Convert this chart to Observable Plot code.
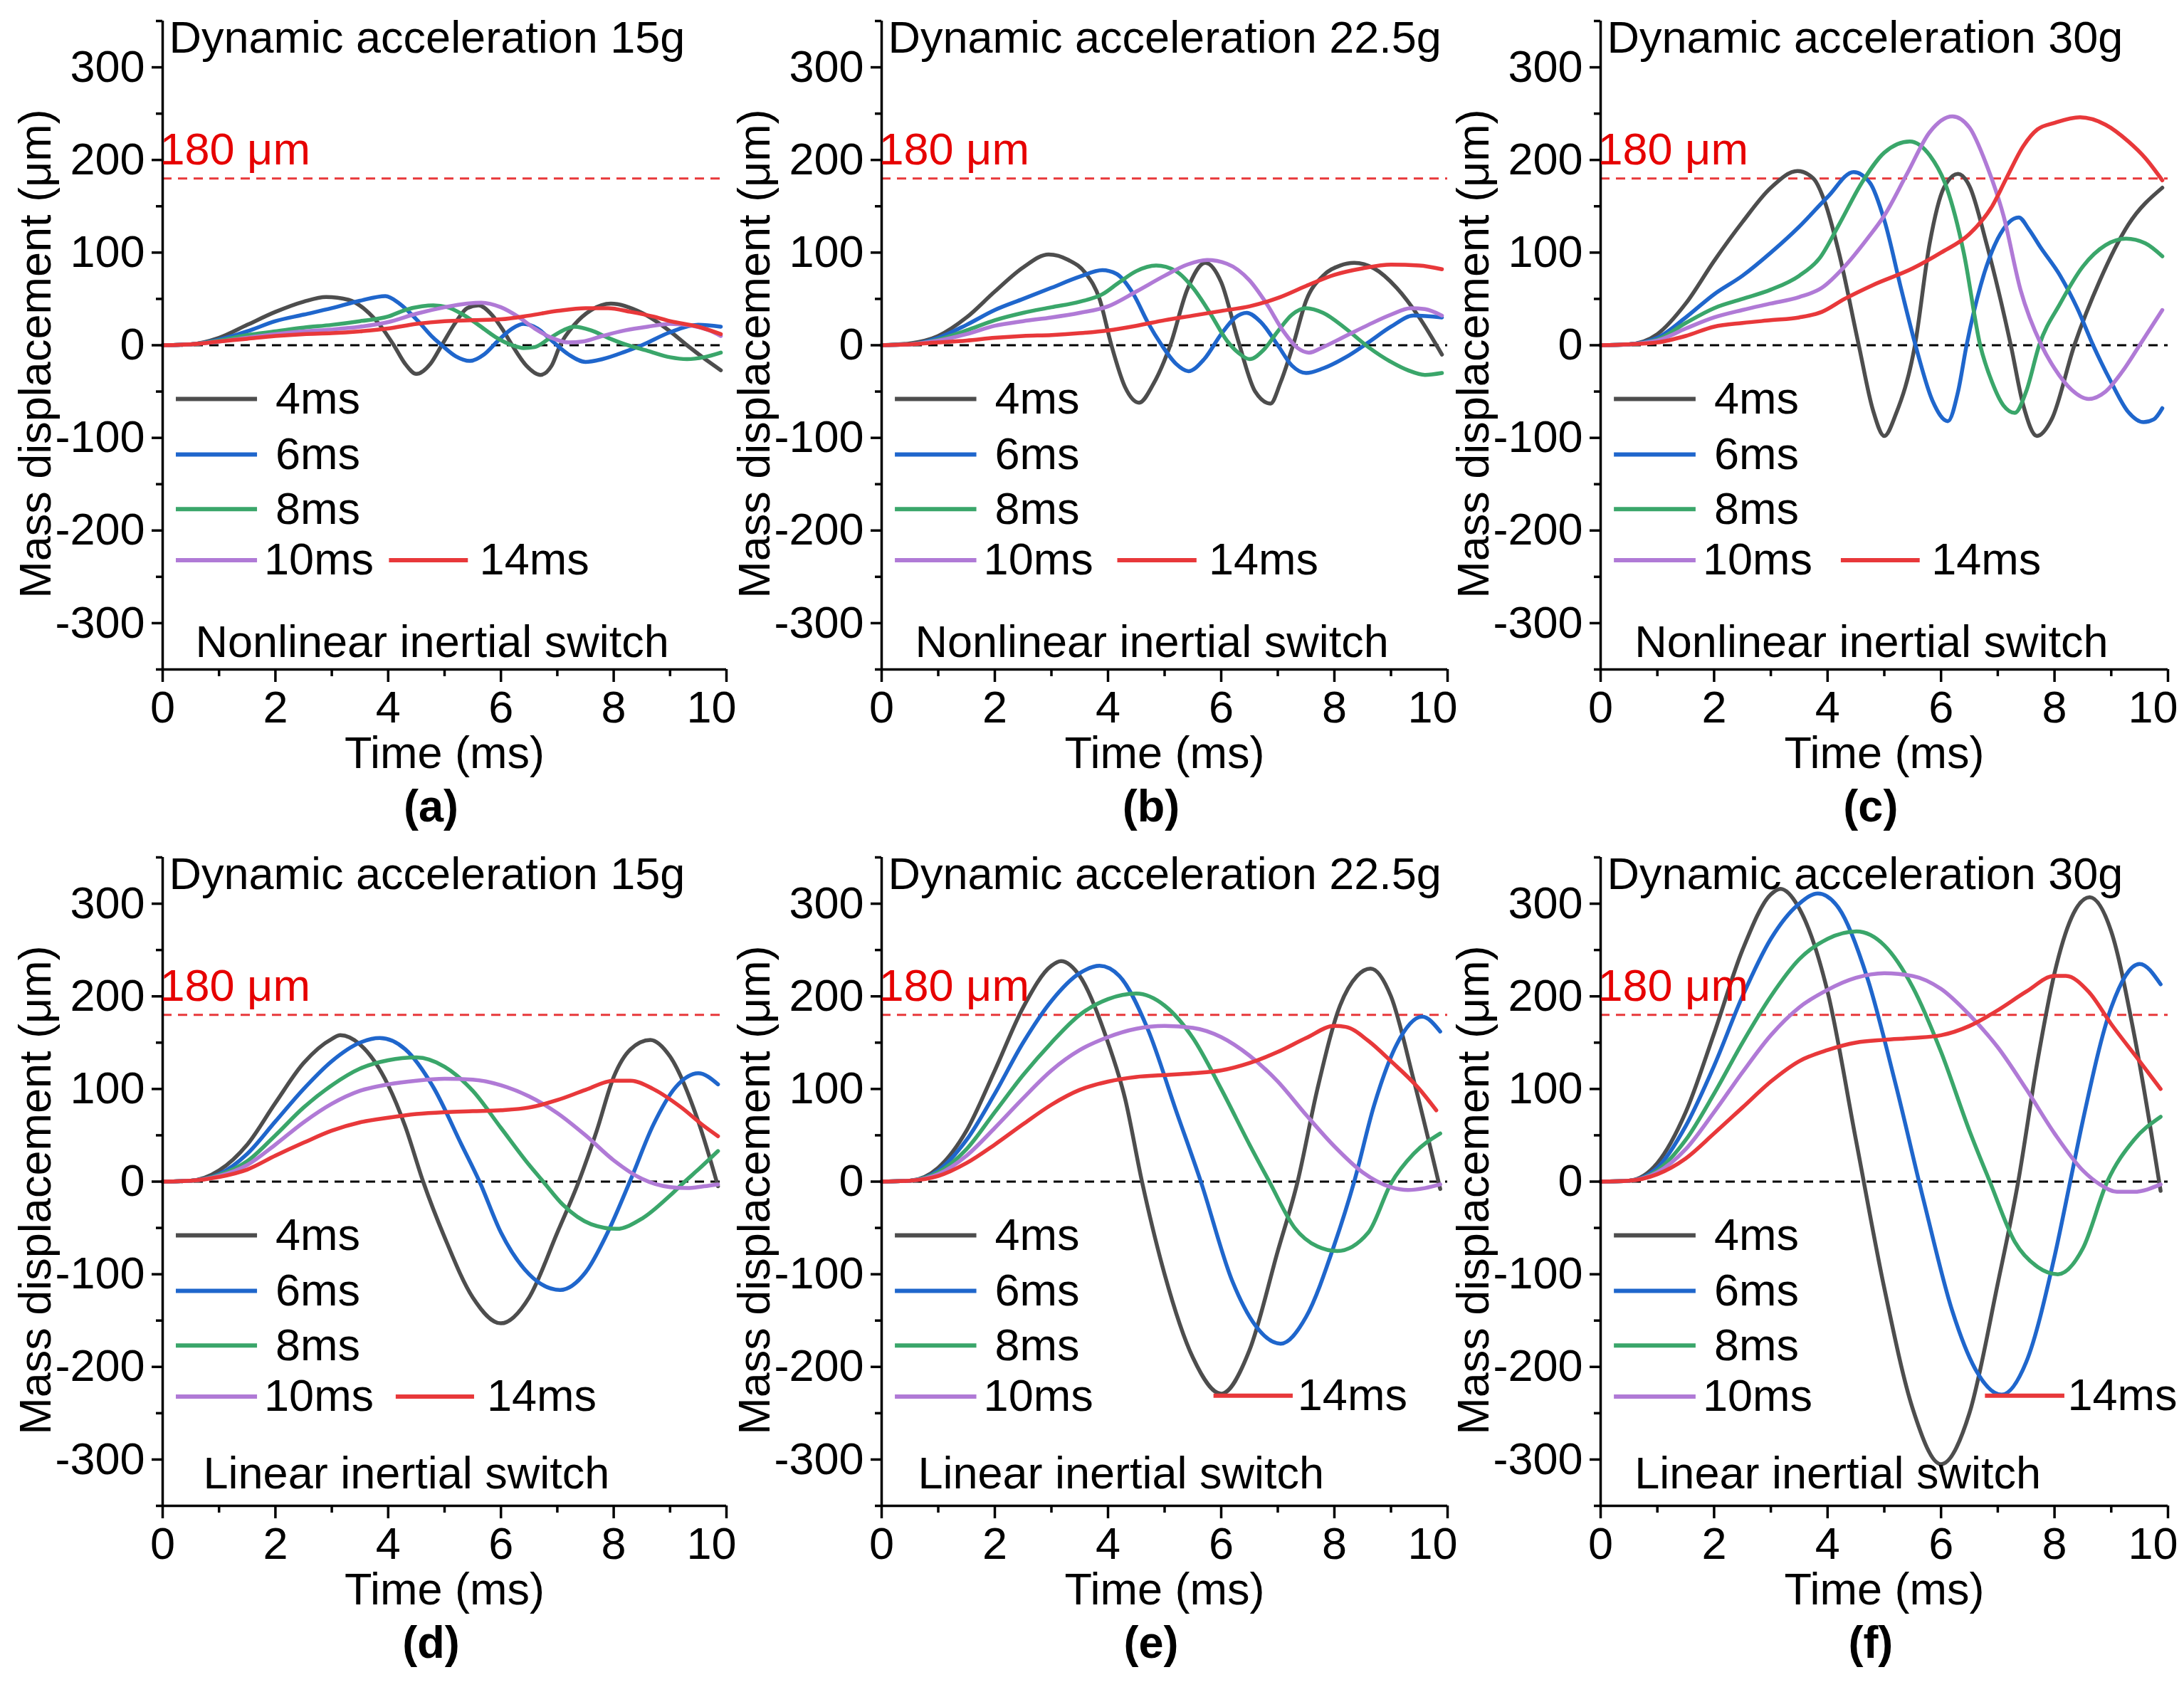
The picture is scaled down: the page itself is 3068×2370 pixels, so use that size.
<!DOCTYPE html>
<html><head><meta charset="utf-8">
<script src="https://cdn.jsdelivr.net/npm/d3@7"></script>
<script src="https://cdn.jsdelivr.net/npm/@observablehq/plot@0.6"></script>
<style>
body{margin:0;background:#fff}
#root{position:relative;width:3068px;height:2370px;background:#fff;overflow:hidden}
.panel{position:absolute}
.panel svg{overflow:visible}
</style>
</head><body><div id="root"></div>
<script>
// ---------- data (time ms, displacement µm) ----------
const seriesNames = ["4ms", "6ms", "8ms", "10ms", "14ms"];
const yTicks = [-300, -200, -100, 0, 100, 200, 300];
const yMinor = [-350, -250, -150, -50, 50, 150, 250, 350];
const xTicks = [0, 2, 4, 6, 8];
const xLast = [10];
const xMinor = [1, 3, 5, 7, 9];
const threshold = 180;

// (a) Nonlinear, 15g
const a4 = [[0,0],[0.5,1],[1,8],[1.5,22],[2,36],[2.5,47],[2.9,52],[3.3,49],[3.6,38],[3.85,22],[4.1,0],[4.3,-20],[4.5,-31],[4.75,-20],[4.95,0],[5.2,25],[5.4,40],[5.6,43],[5.85,32],[6.05,15],[6.2,0],[6.45,-22],[6.7,-32],[6.9,-22],[7.05,0],[7.3,22],[7.6,38],[7.95,45],[8.5,35],[9,15],[9.3,0],[9.6,-14],[9.9,-27]];
const a6 = [[0,0],[0.5,1],[1,6],[1.5,15],[2,26],[2.5,33],[3,40],[3.5,48],[3.95,53],[4.2,45],[4.5,28],[4.8,8],[4.95,0],[5.2,-12],[5.45,-17],[5.7,-10],[5.95,5],[6.2,18],[6.4,23],[6.65,18],[6.9,5],[7.2,-10],[7.5,-18],[7.8,-15],[8.2,-7],[8.5,0],[9,14],[9.5,22],[9.9,20]];
const a8 = [[0,0],[0.5,1],[1,5],[1.5,11],[2,15],[2.5,19],[3,22],[3.5,26],[4,31],[4.3,38],[4.6,42],[4.8,43],[5.05,41],[5.3,34],[5.6,22],[5.9,9],[6.2,0],[6.4,-3],[6.6,-2],[6.85,7],[7.1,16],[7.3,20],[7.6,16],[7.9,8],[8.2,1],[8.6,-6],[9,-13],[9.3,-15],[9.6,-13],[9.9,-8]];
const a10 = [[0,0],[0.5,1],[1,4],[1.5,8],[2,12],[2.5,15],[3,17],[3.5,20],[4,25],[4.5,34],[5,41],[5.4,45],[5.65,46],[6,41],[6.3,31],[6.6,18],[6.9,8],[7.2,3],[7.45,4],[7.8,10],[8.2,16],[8.6,20],[9,23],[9.4,21],[9.7,16],[9.9,10]];
const a14 = [[0,0],[0.5,1],[1,4],[1.5,7],[2,10],[2.5,12],[3,13],[3.5,15],[4,18],[4.5,23],[5,26],[5.5,27],[6,28],[6.5,32],[7,37],[7.5,40],[7.9,40],[8.3,36],[8.7,31],[9,26],[9.5,20],[9.9,12]];

// (b) Nonlinear, 22.5g
const b4 = [[0,0],[0.5,2],[1,10],[1.5,30],[2,58],[2.5,84],[2.95,98],[3.3,92],[3.6,78],[3.85,50],[4.06,0],[4.3,-45],[4.55,-62],[4.8,-42],[5.1,0],[5.4,60],[5.72,89],[6.0,68],[6.3,5],[6.6,-50],[6.87,-63],[7.05,-40],[7.27,0],[7.5,48],[7.8,75],[8.1,86],[8.35,89],[8.7,83],[9.1,62],[9.5,30],[9.9,-10]];
const b6 = [[0,0],[0.5,1],[1,8],[1.5,22],[2,38],[2.5,50],[3,62],[3.5,74],[3.9,81],[4.15,77],[4.45,55],[4.7,25],[4.95,0],[5.2,-20],[5.42,-28],[5.7,-15],[6.0,12],[6.25,30],[6.45,35],[6.7,25],[7,0],[7.25,-22],[7.5,-30],[7.8,-25],[8.2,-13],[8.6,3],[9,20],[9.4,32],[9.9,30]];
const b8 = [[0,0],[0.5,1],[1,6],[1.5,16],[2,27],[2.5,35],[3,41],[3.5,47],[3.9,55],[4.2,68],[4.5,80],[4.85,86],[5.2,80],[5.5,62],[5.8,35],[6.1,5],[6.3,-8],[6.5,-15],[6.75,-5],[7.0,15],[7.25,33],[7.5,40],[7.8,35],[8.2,18],[8.6,-2],[9,-18],[9.3,-27],[9.6,-32],[9.9,-30]];
const b10 = [[0,0],[0.5,1],[1,5],[1.5,12],[2,21],[2.5,26],[3,30],[3.5,35],[4,42],[4.5,58],[5,75],[5.4,87],[5.75,92],[6.1,88],[6.5,70],[6.8,45],[7.1,15],[7.35,-3],[7.55,-8],[7.8,-2],[8.2,10],[8.6,22],[9,33],[9.35,40],[9.6,39],[9.9,32]];
const b14 = [[0,0],[0.5,1],[1,3],[1.5,5],[2,8],[2.5,10],[3,11],[3.5,13],[4,16],[4.5,21],[5,27],[5.5,32],[6,37],[6.5,42],[7,51],[7.5,64],[8,76],[8.5,83],[9,87],[9.5,86],[9.9,82]];

// (c) Nonlinear, 30g
const c4 = [[0,0],[0.5,1],[1,12],[1.5,45],[2,91],[2.5,133],[3,170],[3.47,188],[3.75,180],[3.95,155],[4.2,100],[4.55,0],[4.8,-70],[5.0,-98],[5.2,-75],[5.54,0],[5.8,110],[6.05,170],[6.3,185],[6.5,172],[6.8,110],[7.23,0],[7.45,-65],[7.69,-98],[7.95,-80],[8.35,0],[8.8,70],[9.3,130],[9.9,170]];
const c6 = [[0,0],[0.5,1],[1,8],[1.5,30],[2,55],[2.5,75],[3,100],[3.5,128],[4,160],[4.46,187],[4.75,175],[5.0,135],[5.3,60],[5.55,0],[5.85,-60],[6.12,-82],[6.3,-50],[6.45,0],[6.7,65],[7.0,115],[7.37,138],[7.55,125],[7.75,106],[8.1,75],[8.4,40],[8.68,0],[9.0,-40],[9.3,-72],[9.57,-83],[9.75,-80],[9.9,-68]];
const c8 = [[0,0],[0.5,1],[1,6],[1.5,24],[2,40],[2.5,50],[3,60],[3.5,75],[3.86,94],[4.2,130],[4.6,175],[5.0,208],[5.45,220],[5.8,205],[6.1,170],[6.4,100],[6.69,0],[6.9,-40],[7.1,-65],[7.3,-73],[7.5,-50],[7.73,0],[8.1,45],[8.5,85],[8.9,108],[9.26,115],[9.6,110],[9.9,96]];
const c10 = [[0,0],[0.5,1],[1,5],[1.5,18],[2,30],[2.5,38],[3,45],[3.5,52],[3.9,62],[4.3,85],[4.7,115],[5.0,140],[5.4,185],[5.8,230],[6.2,247],[6.5,235],[6.8,195],[7.1,140],[7.4,60],[7.77,0],[8.0,-25],[8.3,-48],[8.6,-58],[8.9,-50],[9.2,-28],[9.5,0],[9.9,38]];
const c14 = [[0,0],[0.5,1],[1,3],[1.5,10],[2,20],[2.5,24],[3,27],[3.5,30],[3.9,36],[4.3,50],[4.8,65],[5.5,83],[6,100],[6.5,120],[6.9,150],[7.15,180],[7.45,215],[7.7,233],[8.0,240],[8.45,246],[8.9,238],[9.3,220],[9.6,202],[9.9,178]];

// (d) Linear, 15g
const d4 = [[0,0],[0.5,1],[1,12],[1.5,40],[2,85],[2.5,128],[3,154],[3.15,158],[3.5,148],[4,104],[4.3,60],[4.62,0],[5,-60],[5.5,-125],[6,-153],[6.5,-125],[7,-55],[7.38,0],[7.7,55],[8,113],[8.3,143],[8.65,153],[9,135],[9.5,65],[9.85,-5]];
const d6 = [[0,0],[0.5,1],[1,8],[1.5,30],[2,65],[2.5,100],[3,130],[3.5,150],[3.85,155],[4.3,143],[4.8,102],[5.3,40],[5.62,0],[6.0,-55],[6.5,-100],[7.05,-117],[7.5,-98],[7.9,-54],[8.3,2],[8.7,61],[9.1,102],[9.5,117],[9.85,105]];
const d8 = [[0,0],[0.5,1],[1,7],[1.5,22],[2,50],[2.5,80],[3,104],[3.5,122],[4,131],[4.5,134],[5,124],[5.5,98],[6,58],[6.5,18],[6.75,0],[7.1,-25],[7.6,-46],[8.05,-51],[8.5,-40],[9,-15],[9.26,0],[9.5,13],[9.85,33]];
const d10 = [[0,0],[0.5,1],[1,6],[1.5,18],[2,40],[2.5,64],[3,84],[3.5,98],[4,105],[4.5,109],[5,111],[5.5,110],[6,104],[6.5,92],[7,74],[7.5,50],[8,23],[8.5,3],[9,-6],[9.3,-7],[9.6,-5],[9.85,-3]];
const d14 = [[0,0],[0.5,1],[1,5],[1.5,13],[2,28],[2.5,42],[3,55],[3.5,64],[4,69],[4.5,73],[5,75],[5.5,76],[6,77],[6.5,80],[7,88],[7.5,99],[8,109],[8.3,109],[8.7,100],[9.2,80],[9.6,60],[9.85,49]];

// (e) Linear, 22.5g
const e4 = [[0,0],[0.5,1],[1,15],[1.5,55],[2,120],[2.5,188],[3,233],[3.17,238],[3.5,222],[4,150],[4.3,90],[4.6,0],[5,-100],[5.5,-190],[6,-229],[6.5,-182],[7,-75],[7.35,0],[7.7,100],[8.1,190],[8.4,222],[8.64,230],[9,200],[9.4,110],[9.87,-8]];
const e6 = [[0,0],[0.5,1],[1,12],[1.5,45],[2,95],[2.5,150],[3,195],[3.5,225],[3.85,233],[4.2,222],[4.7,165],[5.2,77],[5.64,0],[6.2,-108],[6.6,-155],[7.05,-175],[7.5,-146],[8,-68],[8.35,0],[8.7,82],[9.1,148],[9.55,178],[9.87,162]];
const e8 = [[0,0],[0.5,1],[1,10],[1.5,35],[2,75],[2.5,115],[3,150],[3.5,180],[4,197],[4.5,203],[5,190],[5.5,155],[6,100],[6.5,40],[6.85,0],[7.3,-50],[7.7,-70],[8.05,-75],[8.6,-55],[9.0,-2],[9.4,30],[9.87,52]];
const e10 = [[0,0],[0.5,1],[1,8],[1.5,28],[2,58],[2.5,90],[3,120],[3.5,142],[4,156],[4.5,165],[5,168],[5.5,166],[6,156],[6.5,136],[7,108],[7.5,72],[8,38],[8.5,10],[9,-6],[9.3,-9],[9.6,-7],[9.87,-3]];
const e14 = [[0,0],[0.5,1],[1,6],[1.5,20],[2,40],[2.5,62],[3,83],[3.5,99],[4,108],[4.5,113],[5,115],[5.5,117],[6,120],[6.5,128],[7,140],[7.5,155],[8,168],[8.2,167],[8.6,152],[9,130],[9.5,100],[9.8,77]];

// (f) Linear, 30g
const f4 = [[0,0],[0.5,1],[1,20],[1.5,75],[2,160],[2.5,250],[3,310],[3.17,316],[3.5,295],[4,205],[4.5,45],[5,-115],[5.5,-245],[6,-305],[6.5,-250],[7,-110],[7.36,0],[7.7,130],[8,225],[8.3,285],[8.62,307],[9,270],[9.4,160],[9.87,-10]];
const f6 = [[0,0],[0.5,1],[1,15],[1.5,60],[2,125],[2.5,200],[3,262],[3.5,300],[3.83,311],[4.2,295],[4.7,220],[5.2,105],[5.7,-22],[6.2,-140],[6.6,-202],[7.07,-230],[7.5,-195],[8,-81],[8.3,7],[8.5,66],[9,188],[9.5,235],[9.87,213]];
const f8 = [[0,0],[0.5,1],[1,12],[1.5,45],[2,95],[2.5,150],[3,200],[3.5,240],[4,262],[4.51,270],[5,255],[5.5,210],[6,140],[6.5,55],[6.86,0],[7.3,-65],[7.7,-92],[8.06,-100],[8.5,-72],[8.93,0],[9.4,45],[9.87,70]];
const f10 = [[0,0],[0.5,1],[1,10],[1.5,35],[2,75],[2.5,118],[3,158],[3.5,188],[4,207],[4.5,220],[5,225],[5.5,222],[6,208],[6.5,180],[7,145],[7.5,100],[8,52],[8.5,12],[8.8,-3],[9.1,-11],[9.4,-11],[9.87,-3]];
const f14 = [[0,0],[0.5,1],[1,8],[1.5,25],[2,52],[2.5,80],[3,108],[3.5,130],[4,142],[4.5,150],[5,153],[5.5,155],[6,158],[6.5,168],[7,185],[7.5,205],[8,222],[8.2,222],[8.6,205],[9,170],[9.5,130],[9.87,100]];

const titles = ["Dynamic acceleration 15g", "Dynamic acceleration 22.5g", "Dynamic acceleration 30g"];
const kinds = ["Nonlinear inertial switch", "Linear inertial switch"];
const captions = ["(a)", "(b)", "(c)", "(d)", "(e)", "(f)"];
const yLabel = "Mass displacement (\u03bcm)";
const xLabel = "Time (ms)";
const thresholdLabel = "180 \u03bcm";

// ---------- styles / layout ----------
const COLORS = ["#4d4d4d", "#1f66cc", "#3aa66a", "#b07ad6", "#e8383a"];
const FONT = "'Liberation Sans', Arial, Helvetica, sans-serif";
const FS = 63;

const panels = [
  {series:[a4,a6,a8,a10,a14], title:titles[0], kind:kinds[0], cap:captions[0], left:0,    top:0,    width:1040, height:1180, mL:228, mR:20, mB:240, kx:0.58, ky:-321, leg14:[4.02,5.42,5.62,-232]},
  {series:[b4,b6,b8,b10,b14], title:titles[1], kind:kinds[0], cap:captions[1], left:1020, top:0,    width:1040, height:1180, mL:218, mR:27, mB:240, kx:0.59, ky:-321, leg14:[4.17,5.57,5.78,-232]},
  {series:[c4,c6,c8,c10,c14], title:titles[2], kind:kinds[0], cap:captions[2], left:2040, top:0,    width:1028, height:1180, mL:208, mR:23, mB:240, kx:0.60, ky:-321, leg14:[4.24,5.63,5.83,-232]},
  {series:[d4,d6,d8,d10,d14], title:titles[0], kind:kinds[1], cap:captions[3], left:0,    top:1175, width:1040, height:1195, mL:228, mR:20, mB:255, kx:0.72, ky:-316, leg14:[4.14,5.53,5.75,-232]},
  {series:[e4,e6,e8,e10,e14], title:titles[1], kind:kinds[1], cap:captions[4], left:1020, top:1175, width:1040, height:1195, mL:218, mR:27, mB:255, kx:0.64, ky:-316, leg14:[5.87,7.27,7.35,-231]},
  {series:[f4,f6,f8,f10,f14], title:titles[2], kind:kinds[1], cap:captions[5], left:2040, top:1175, width:1028, height:1195, mL:208, mR:23, mB:255, kx:0.60, ky:-316, leg14:[6.78,8.18,8.23,-231]}
];

const legRows = [-58, -118, -177, -232];
const legTextX = [2.0, 2.0, 2.0, 1.8];

function makePanel(p) {
  const marks = [];
  const txt = (o) => ({fontSize: FS, fontFamily: FONT, fill: "black", ...o});
  marks.push(Plot.ruleY([threshold], {stroke: "#e8383a", strokeWidth: 3, strokeDasharray: "13,9"}));
  marks.push(Plot.ruleY([0], {stroke: "black", strokeWidth: 3, strokeDasharray: "13,9"}));
  p.series.forEach((s, i) => {
    marks.push(Plot.line(s, {x: d => d[0], y: d => d[1], stroke: COLORS[i], strokeWidth: 5.5, curve: "monotone-x"}));
  });
  // axes
  marks.push(Plot.axisY({ticks: yTicks, tickFormat: d => String(d), tickSize: 15, tickPadding: 10, strokeWidth: 3.5, label: null, fontSize: FS, fontFamily: FONT, color: "black"}));
  marks.push(Plot.axisY({ticks: yMinor, tickFormat: () => "", tickSize: 9, strokeWidth: 3.5, label: null}));
  marks.push(Plot.axisX({ticks: xTicks, tickFormat: d => String(d), tickSize: 18, tickPadding: 12, strokeWidth: 3.5, label: null, fontSize: FS, fontFamily: FONT, color: "black"}));
  marks.push(Plot.axisX({ticks: xLast, tickFormat: () => "", tickSize: 18, strokeWidth: 3.5, label: null}));
  marks.push(Plot.text(xLast, txt({text: d => String(d), x: d => d, frameAnchor: "bottom", dy: 30, dx: -21, textAnchor: "middle", lineAnchor: "top"})));
  marks.push(Plot.axisX({ticks: xMinor, tickFormat: () => "", tickSize: 10, strokeWidth: 3.5, label: null}));
  marks.push(Plot.ruleX([0], {stroke: "black", strokeWidth: 3.5}));
  marks.push(Plot.ruleY([-350], {stroke: "black", strokeWidth: 3.5}));
  // legend
  seriesNames.forEach((name, i) => {
    let x1, x2, tx, y;
    if (i < 4) { x1 = 0.24; x2 = 1.68; tx = legTextX[i]; y = legRows[i]; }
    else { [x1, x2, tx, y] = p.leg14; }
    marks.push(Plot.ruleY([y], {x1: x1, x2: x2, stroke: COLORS[i], strokeWidth: 6}));
    marks.push(Plot.text([name], txt({text: d => d, x: () => tx, y: () => y, textAnchor: "start", lineAnchor: "middle"})));
  });
  // annotations
  marks.push(Plot.text([thresholdLabel], txt({text: d => d, x: () => 0, y: () => 211, dx: -4, textAnchor: "start", lineAnchor: "middle", fill: "#e60000"})));
  marks.push(Plot.text([p.title], txt({text: d => d, frameAnchor: "top-left", dx: 9, dy: 0, textAnchor: "start", lineAnchor: "top"})));
  marks.push(Plot.text([p.kind], txt({text: d => d, x: () => p.kx, y: () => p.ky, textAnchor: "start", lineAnchor: "middle"})));
  marks.push(Plot.text([xLabel], txt({text: d => d, x: () => 5, frameAnchor: "bottom", dy: 118, textAnchor: "middle", lineAnchor: "middle"})));
  marks.push(Plot.text([p.cap], txt({text: d => d, x: () => 4.76, frameAnchor: "bottom", dy: 193, textAnchor: "middle", lineAnchor: "middle", fontWeight: "bold"})));
  marks.push(Plot.text([yLabel], txt({text: d => d, frameAnchor: "left", rotate: -90, dx: -178, dy: 12, textAnchor: "middle", lineAnchor: "middle"})));

  return Plot.plot({
    width: p.width,
    height: p.height,
    marginLeft: p.mL,
    marginRight: p.mR,
    marginTop: 29,
    marginBottom: p.mB,
    x: {domain: [0, 10]},
    y: {domain: [-350, 350]},
    style: {fontFamily: FONT, fontSize: FS + "px", background: "transparent", overflow: "visible", color: "black"},
    marks
  });
}

const root = document.getElementById("root");
panels.forEach(p => {
  const div = document.createElement("div");
  div.className = "panel";
  div.style.left = p.left + "px";
  div.style.top = p.top + "px";
  div.appendChild(makePanel(p));
  root.appendChild(div);
});
</script>
</body></html>
